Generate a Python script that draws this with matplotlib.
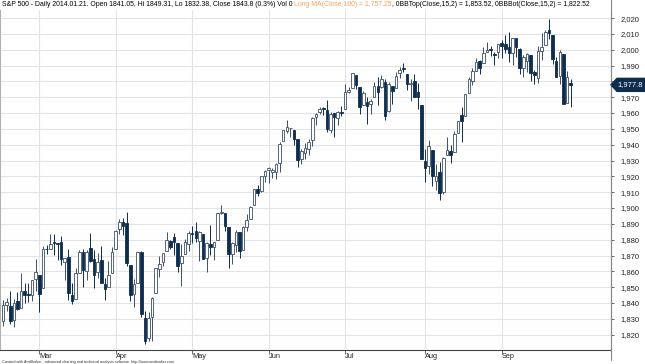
import matplotlib
matplotlib.use("Agg")
import matplotlib.pyplot as plt
from matplotlib.patches import Rectangle, Polygon
import pandas as pd

plt.rcParams['font.family'] = ['Liberation Sans', 'DejaVu Sans']

# trading days shown (market holidays skipped)
holidays = ["2014-02-17", "2014-04-18", "2014-05-26", "2014-07-04", "2014-09-01"]
dates = pd.bdate_range("2014-02-14", "2014-09-29", freq="C", holidays=holidays)

opens = [
    1828.46, 1839.03, 1838.22, 1829.24, 1841.07, 1836.78, 1847.66, 1845.79, 1844.90, 1855.12,
    1857.68, 1849.23, 1874.05, 1874.18, 1878.52, 1877.86, 1878.26, 1866.15, 1869.06, 1845.07, 1842.81,
    1858.92, 1872.25, 1860.09, 1874.53, 1867.67, 1859.48, 1867.09, 1852.11, 1850.07, 1859.16,
    1873.96, 1886.61, 1891.43, 1890.25, 1863.92, 1845.48, 1852.64, 1872.28, 1830.65, 1818.18, 1831.45,
    1846.01, 1861.73, 1865.79, 1872.57, 1879.32, 1881.97, 1877.72, 1865.00, 1870.78, 1877.10,
    1884.39, 1885.30, 1879.45, 1883.69, 1868.53, 1877.39, 1875.27, 1880.03, 1896.75, 1897.13, 1888.16,
    1871.19, 1876.66, 1884.88, 1873.34, 1888.19, 1893.32, 1902.01, 1911.77, 1910.60, 1920.33,
    1923.87, 1923.07, 1923.06, 1928.52, 1942.41, 1948.97, 1950.34, 1949.37, 1943.35, 1930.80, 1934.84,
    1937.15, 1942.73, 1957.50, 1960.45, 1962.92, 1961.97, 1949.27, 1959.89, 1956.56, 1960.79,
    1962.29, 1973.06, 1975.88, 1984.22, 1976.39, 1965.10, 1966.67, 1965.76, 1969.86, 1977.36, 1976.35,
    1979.75, 1961.54, 1976.93, 1975.65, 1985.32, 1988.07, 1984.60, 1978.25, 1980.03, 1973.21, 1965.14,
    1929.80, 1926.62, 1936.34, 1917.29, 1923.03, 1910.35, 1933.43, 1935.73, 1935.60, 1947.41, 1958.87,
    1958.36, 1972.73, 1980.46, 1986.82, 1992.60, 1991.74, 1998.59, 2000.54, 1997.42, 1998.45,
    2004.07, 2003.57, 2001.67, 1998.00, 2007.17, 2000.73, 1988.41, 1992.85, 1996.74, 1986.04,
    1981.93, 1999.30, 2003.07, 2012.74, 2009.08, 1992.78, 1983.34, 1997.32, 1966.22, 1978.96]

highs = [
    1841.65, 1842.87, 1847.50, 1842.79, 1846.87, 1858.71, 1852.91, 1852.65, 1854.53, 1867.92,
    1857.68, 1876.23, 1876.53, 1883.84, 1883.57, 1877.87, 1882.35, 1868.38, 1874.40, 1852.44, 1862.30,
    1873.76, 1874.14, 1873.49, 1883.97, 1873.34, 1871.87, 1875.92, 1855.55, 1866.63, 1875.18,
    1885.84, 1893.17, 1893.80, 1897.28, 1864.04, 1854.95, 1872.43, 1872.53, 1835.07, 1834.19, 1844.02,
    1862.31, 1869.63, 1871.89, 1884.89, 1879.75, 1884.06, 1877.72, 1877.01, 1880.60, 1885.20,
    1888.59, 1891.33, 1885.51, 1883.69, 1878.83, 1889.07, 1878.57, 1897.13, 1902.17, 1897.13, 1888.16,
    1878.28, 1886.00, 1884.88, 1888.80, 1896.33, 1901.26, 1912.28, 1914.46, 1920.03, 1924.03,
    1925.88, 1925.07, 1928.63, 1941.74, 1949.44, 1955.55, 1950.86, 1949.37, 1943.35, 1937.30, 1941.15,
    1943.69, 1957.74, 1959.87, 1963.91, 1963.74, 1968.17, 1960.83, 1959.89, 1961.47, 1964.24,
    1978.58, 1976.67, 1985.59, 1984.22, 1976.39, 1974.15, 1969.84, 1968.67, 1979.85, 1982.52, 1983.94,
    1981.80, 1979.91, 1976.93, 1986.24, 1989.23, 1991.39, 1984.60, 1981.52, 1984.85, 1978.90, 1965.14,
    1937.35, 1942.92, 1936.34, 1927.91, 1928.89, 1932.38, 1944.90, 1939.65, 1948.41, 1955.23, 1964.04,
    1971.99, 1982.57, 1988.57, 1994.76, 1993.54, 2001.95, 2005.04, 2002.14, 1998.55, 2003.38,
    2006.12, 2009.28, 2011.17, 2007.71, 2007.17, 2001.01, 1996.66, 1997.65, 1996.74, 1987.18,
    2002.28, 2010.74, 2012.34, 2019.26, 2009.08, 1995.41, 1999.79, 1997.32, 1986.37, 1981.28]

lows = [
    1825.59, 1835.01, 1826.99, 1824.58, 1835.60, 1836.78, 1840.19, 1840.66, 1841.13, 1847.67,
    1834.44, 1849.23, 1871.11, 1874.18, 1870.56, 1867.04, 1863.88, 1854.38, 1841.86, 1839.57, 1842.81,
    1858.92, 1850.35, 1854.63, 1865.62, 1849.69, 1855.96, 1852.56, 1842.11, 1850.07, 1859.16,
    1873.96, 1883.79, 1882.65, 1863.26, 1841.48, 1837.49, 1852.38, 1830.87, 1814.36, 1815.80, 1816.29,
    1846.01, 1856.72, 1863.18, 1872.57, 1873.91, 1870.24, 1859.70, 1850.61, 1870.78, 1872.69,
    1878.04, 1878.50, 1866.77, 1867.72, 1859.79, 1870.05, 1867.02, 1880.03, 1896.06, 1885.77, 1862.36,
    1864.82, 1872.42, 1868.14, 1873.34, 1885.39, 1893.32, 1902.01, 1907.30, 1909.82, 1916.64,
    1915.98, 1918.79, 1918.60, 1922.93, 1942.41, 1947.16, 1944.64, 1940.08, 1925.78, 1927.69, 1930.91,
    1933.55, 1939.29, 1952.26, 1959.17, 1958.89, 1948.34, 1947.49, 1944.69, 1952.18, 1958.22,
    1962.29, 1972.58, 1975.88, 1974.88, 1959.46, 1965.10, 1952.86, 1959.63, 1969.86, 1965.34, 1975.67,
    1955.59, 1960.82, 1965.77, 1975.65, 1982.44, 1985.79, 1974.37, 1967.31, 1969.95, 1962.42, 1930.67,
    1916.37, 1921.20, 1913.77, 1911.45, 1904.78, 1909.01, 1933.43, 1928.29, 1935.60, 1947.41, 1941.50,
    1958.36, 1972.73, 1977.68, 1986.82, 1984.76, 1991.74, 1998.59, 1996.20, 1990.52, 1994.65,
    1994.85, 1998.14, 1992.44, 1990.10, 1995.60, 1984.61, 1982.99, 1985.93, 1980.26, 1978.48,
    1979.06, 1993.29, 2003.07, 2006.59, 1991.01, 1982.77, 1978.63, 1965.99, 1966.22, 1963.91]

closes = [
    1838.63, 1840.76, 1828.75, 1839.78, 1836.25, 1847.61, 1845.12, 1845.16, 1854.29, 1859.45,
    1845.73, 1873.91, 1873.81, 1877.03, 1878.04, 1877.17, 1867.63, 1868.20, 1846.34, 1841.13, 1858.83,
    1872.25, 1860.77, 1872.01, 1866.52, 1857.44, 1865.62, 1852.56, 1849.04, 1857.62, 1872.34,
    1885.52, 1890.90, 1888.77, 1865.09, 1845.04, 1851.96, 1872.18, 1833.08, 1815.69, 1830.61, 1842.98,
    1862.31, 1864.85, 1871.89, 1879.55, 1875.39, 1878.61, 1863.40, 1869.43, 1878.33, 1883.95,
    1883.68, 1881.14, 1884.66, 1867.72, 1878.21, 1875.63, 1878.48, 1896.65, 1897.45, 1888.53, 1870.85,
    1877.86, 1885.08, 1872.83, 1888.03, 1892.49, 1900.53, 1911.91, 1909.78, 1920.03, 1923.57,
    1924.97, 1924.24, 1927.88, 1940.46, 1949.44, 1951.27, 1950.79, 1943.89, 1930.11, 1936.16, 1937.78,
    1941.99, 1956.98, 1959.48, 1962.87, 1962.61, 1949.98, 1959.53, 1957.22, 1960.96, 1960.23,
    1973.32, 1974.62, 1985.44, 1977.65, 1963.71, 1972.83, 1964.68, 1967.57, 1977.10, 1973.28, 1981.57,
    1958.12, 1978.22, 1973.63, 1983.53, 1987.01, 1987.98, 1978.34, 1978.91, 1969.95, 1970.07, 1930.67,
    1925.15, 1938.99, 1920.21, 1920.24, 1909.57, 1931.59, 1936.92, 1933.75, 1946.72, 1955.18, 1955.06,
    1971.74, 1981.60, 1986.51, 1992.37, 1988.40, 1997.92, 2000.02, 2000.12, 1996.74, 2003.37,
    2002.28, 2000.72, 1997.65, 2007.71, 2001.54, 1988.44, 1995.69, 1997.45, 1985.54, 1984.13,
    1998.98, 2001.57, 2011.36, 2010.40, 1994.29, 1982.77, 1998.30, 1965.99, 1982.85, 1977.80]

y_ticks = list(range(1820, 2021, 10))

title_parts = [
    ("S&P 500 - Daily 2014.01.21. Open 1841.05, Hi 1849.31, Lo 1832.38, Close 1843.8 (0.3%) Vol 0 ", "#000000"),
    ("Long MA(Close,100) = 1,757.25", "#f4a460"),
    (", 0BBTop(Close,15,2) = 1,853.52, 0BBBot(Close,15,2) = 1,822.52", "#000000"),
]

W, H = 645, 364
dark = "#0e2c4e"
edge = "#3a4f66"

fig = plt.figure(figsize=(W / 100, H / 100), dpi=100)
ax = fig.add_axes([0, 14 / H, 611 / W, 340 / H])

for i in range(len(closes)):
    o, h, l, c = opens[i], highs[i], lows[i], closes[i]
    up = c >= o
    ax.vlines(i, l, h, color=edge if up else dark, lw=0.7, zorder=2)
    bottom = min(o, c)
    height = max(abs(c - o), 0.35)
    ax.add_patch(Rectangle((i - 0.36, bottom), 0.72, height,
                           facecolor="white" if up else dark,
                           edgecolor=edge if up else dark, lw=0.6, zorder=3))

ax.set_xlim(-0.8, 167.06)
ax.set_ylim(1810.3, 2025.1)

# month ticks at first trading day of each month
month_idx = [i for i in range(1, len(dates)) if dates[i].month != dates[i - 1].month]
ax.set_xticks(month_idx)
ax.set_xticklabels([dates[i].strftime("%b") for i in month_idx], ha="left")
ax.tick_params(axis="x", direction="out", length=3, width=0.6, pad=-1,
               labelsize=5.3, colors="#555555", labelcolor="#222222")

ax.yaxis.tick_right()
ax.set_yticks(y_ticks)
ax.set_yticklabels([f"{v:,}" for v in y_ticks])
ax.tick_params(axis="y", direction="out", length=2, width=0.6, pad=5,
               labelsize=5.5, colors="#555555", labelcolor="#222222")

ax.grid(True, color="#e3e3e3", lw=0.8)
ax.set_axisbelow(True)
ax.spines["top"].set_visible(False)
ax.spines["left"].set_color("#b0b0b0")
ax.spines["right"].set_color("#888888")
ax.spines["bottom"].set_color("#444444")
for s in ax.spines.values():
    s.set_linewidth(0.8)

# right axis line runs down a bit past the plot
fig.add_artist(plt.Line2D([611 / W, 611 / W], [4 / H, 1], color="#888888", lw=0.8))

# title, several coloured pieces
fig.canvas.draw()
renderer = fig.canvas.get_renderer()
x = 2 / W
for txt, col in title_parts:
    t = fig.text(x, 1 - 1.5 / H, txt, color=col, fontsize=4.95, va="top", ha="left")
    bb = t.get_window_extent(renderer)
    x = bb.x1 / W

# last price tag
yp = ax.transData.transform((0, closes[-1]))[1]
px = 611
tag = Polygon([(px / W, yp / H), ((px + 6) / W, (yp + 6.5) / H), (645 / W, (yp + 6.5) / H),
               (645 / W, (yp - 6.5) / H), ((px + 6) / W, (yp - 6.5) / H)],
              closed=True, transform=fig.transFigure, facecolor=dark, edgecolor=dark, zorder=5)
fig.add_artist(tag)
fig.text(630 / W, yp / H, f"{closes[-1]:,.1f}", color="white", fontsize=5.5,
         ha="center", va="center", zorder=6)

fig.text(2 / W, 0.3 / H,
         "Created with AmiBroker - advanced charting and technical analysis software. http://www.amibroker.com",
         fontsize=2.7, color="#333333", ha="left", va="bottom")

fig.savefig("out.png", dpi=100)
